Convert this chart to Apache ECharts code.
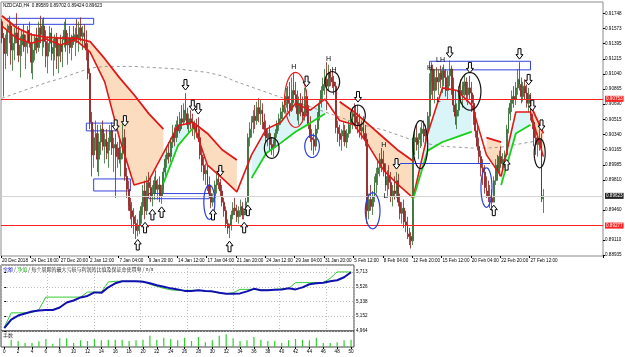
<!DOCTYPE html>
<html><head><meta charset="utf-8">
<script src="https://cdn.jsdelivr.net/npm/echarts@6/dist/echarts.min.js"></script>
<style>html,body{margin:0;padding:0;background:#fff}#c{width:625px;height:357px}</style>
</head><body><div id="c"></div>
<script>
const symbolName = 'NZDCAD,H4';
const firstLabel = '20 Dec 2018';
const firstOpen = 0.9165;
const highs = [0.9168,0.9152,0.9150,0.9162,0.9172,0.9165,0.9150,0.9158,0.9175,0.9160,
0.9148,0.9155,0.9162,0.9150,0.9160,0.9165,0.9152,0.9140,0.9150,0.9158,
0.9165,0.9172,0.9168,0.9170,0.9155,0.9148,0.9160,0.9158,0.9145,0.9150,
0.9152,0.9140,0.9150,0.9148,0.9165,0.9168,0.9152,0.9160,0.9150,0.9160,
0.9158,0.9168,0.9165,0.9170,0.9160,0.9162,0.9155,0.9140,0.9110,0.9060,
0.9040,0.9050,0.9045,0.9035,0.9045,0.9050,0.9035,0.9040,0.9030,0.9045,
0.9048,0.9030,0.9035,0.9025,0.9030,0.9020,0.9048,0.9040,0.8995,0.8980,
0.8960,0.8955,0.8948,0.8940,0.8935,0.8945,0.8955,0.8975,0.8980,0.8985,
0.8990,0.8985,0.8975,0.8985,0.8992,0.8982,0.8985,0.8975,0.8995,0.9010,
0.9020,0.9025,0.9030,0.9045,0.9042,0.9050,0.9055,0.9060,0.9068,0.9070,
0.9082,0.9065,0.9058,0.9062,0.9058,0.9050,0.9052,0.9054,0.9040,0.9020,
0.9008,0.9000,0.8998,0.8985,0.8975,0.8965,0.8980,0.8988,0.8995,0.8982,
0.8975,0.8960,0.8950,0.8935,0.8930,0.8945,0.8955,0.8960,0.8952,0.8950,
0.8958,0.8955,0.8948,0.8960,0.9035,0.9048,0.9055,0.9062,0.9068,0.9072,
0.9076,0.9074,0.9070,0.9058,0.9050,0.9040,0.9045,0.9030,0.9028,0.9040,
0.9050,0.9058,0.9065,0.9072,0.9080,0.9088,0.9090,0.9095,0.9100,0.9106,
0.9095,0.9085,0.9078,0.9082,0.9078,0.9088,0.9086,0.9068,0.9055,0.9040,
0.9035,0.9045,0.9060,0.9075,0.9090,0.9100,0.9110,0.9118,0.9115,0.9110,
0.9108,0.9102,0.9095,0.9050,0.9045,0.9040,0.9048,0.9045,0.9040,0.9050,
0.9060,0.9065,0.9070,0.9068,0.9068,0.9058,0.9050,0.9055,0.9045,0.9035,
0.8965,0.8975,0.8968,0.8985,0.8995,0.9005,0.9012,0.9018,0.9015,0.9000,
0.8992,0.8998,0.8990,0.8975,0.8985,0.8990,0.8988,0.8965,0.8955,0.8958,
0.8945,0.8938,0.8925,0.8920,0.9030,0.9040,0.9045,0.9035,0.9042,0.9048,
0.9050,0.9045,0.9060,0.9105,0.9118,0.9115,0.9110,0.9112,0.9110,0.9114,
0.9112,0.9115,0.9110,0.9108,0.9120,0.9114,0.9100,0.9085,0.9070,0.9090,
0.9098,0.9095,0.9104,0.9100,0.9095,0.9102,0.9095,0.9080,0.9060,0.9045,
0.9030,0.9015,0.9005,0.8998,0.8985,0.8980,0.8975,0.8970,0.8985,0.9005,
0.9010,0.9015,0.9020,0.9012,0.9015,0.9045,0.9065,0.9075,0.9085,0.9090,
0.9095,0.9110,0.9118,0.9100,0.9095,0.9098,0.9092,0.9088,0.9082,0.9058,
0.9050,0.9040,0.9035,0.9040,0.9035,0.89702];
const lows = [0.9140,0.9078,0.9110,0.9125,0.9140,0.9115,0.9108,0.9120,0.9140,0.9118,
0.9100,0.9125,0.9130,0.9110,0.9128,0.9135,0.9105,0.9098,0.9120,0.9128,
0.9130,0.9140,0.9125,0.9135,0.9112,0.9105,0.9130,0.9120,0.9102,0.9120,
0.9110,0.9105,0.9118,0.9112,0.9135,0.9130,0.9115,0.9128,0.9120,0.9138,
0.9125,0.9140,0.9130,0.9142,0.9132,0.9135,0.9120,0.9098,0.9040,0.8985,
0.8995,0.9015,0.8990,0.8985,0.9010,0.9015,0.9000,0.9005,0.8995,0.9015,
0.9010,0.8990,0.8960,0.8995,0.9000,0.8985,0.9005,0.8980,0.8960,0.8945,
0.8935,0.8925,0.8918,0.8912,0.8915,0.8918,0.8930,0.8940,0.8935,0.8940,
0.8960,0.8955,0.8950,0.8958,0.8965,0.8958,0.8955,0.8953,0.8965,0.8985,
0.8995,0.9000,0.9002,0.9018,0.9020,0.9025,0.9030,0.9035,0.9040,0.9045,
0.9050,0.9040,0.9035,0.9040,0.9032,0.9028,0.9030,0.9025,0.9005,0.8990,
0.8980,0.8975,0.8968,0.8960,0.8948,0.8950,0.8955,0.8965,0.8970,0.8962,
0.8950,0.8938,0.8925,0.8918,0.8913,0.8922,0.8935,0.8940,0.8932,0.8930,
0.8938,0.8935,0.8935,0.8940,0.8955,0.9020,0.9030,0.9035,0.9040,0.9045,
0.9048,0.9045,0.9040,0.9032,0.9025,0.9020,0.9015,0.9010,0.9008,0.9018,
0.9030,0.9038,0.9045,0.9050,0.9058,0.9065,0.9060,0.9055,0.9060,0.9070,
0.9065,0.9050,0.9045,0.9055,0.9048,0.9050,0.9055,0.9040,0.9025,0.9015,
0.9010,0.9015,0.9035,0.9050,0.9065,0.9075,0.9080,0.9062,0.9085,0.9090,
0.9088,0.9080,0.9035,0.9025,0.9020,0.9015,0.9025,0.9020,0.9018,0.9030,
0.9035,0.9040,0.9045,0.9040,0.9035,0.9030,0.9028,0.9030,0.9020,0.8930,
0.8935,0.8945,0.8940,0.8955,0.8965,0.8975,0.8985,0.8990,0.8985,0.8968,
0.8960,0.8970,0.8955,0.8950,0.8958,0.8960,0.8950,0.8935,0.8930,0.8925,
0.8920,0.8912,0.8905,0.8901,0.8905,0.9010,0.9015,0.9005,0.9018,0.9020,
0.9025,0.9020,0.9030,0.9040,0.9080,0.9075,0.9070,0.9085,0.9080,0.9088,
0.9082,0.9090,0.9078,0.9075,0.9090,0.9080,0.9060,0.9045,0.9040,0.9055,
0.9070,0.9065,0.9078,0.9072,0.9068,0.9075,0.9060,0.9045,0.9030,0.9015,
0.9000,0.8985,0.8975,0.8965,0.8960,0.8955,0.8948,0.8945,0.8955,0.8975,
0.8980,0.8985,0.8995,0.8990,0.8995,0.9008,0.9035,0.9050,0.9060,0.9065,
0.9068,0.9080,0.9085,0.9070,0.9072,0.9075,0.9065,0.9060,0.9050,0.9040,
0.9020,0.9010,0.9008,0.9015,0.8955,0.89424];
const closes = [0.9146,0.9128,0.9145,0.9155,0.9160,0.9132,0.9140,0.9152,0.9145,0.9126,
0.9138,0.9150,0.9136,0.9142,0.9155,0.9140,0.9118,0.9132,0.9146,0.9135,
0.9158,0.9150,0.9160,0.9142,0.9125,0.9140,0.9152,0.9128,0.9135,0.9146,
0.9125,0.9138,0.9130,0.9144,0.9155,0.9138,0.9146,0.9135,0.9148,0.9142,
0.9150,0.9145,0.9158,0.9148,0.9152,0.9140,0.9132,0.9105,0.9048,0.9010,
0.9030,0.9035,0.9005,0.9025,0.9040,0.9020,0.9028,0.9012,0.9025,0.9038,
0.9018,0.9022,0.9008,0.9018,0.9005,0.9012,0.9030,0.8985,0.8970,0.8952,
0.8945,0.8938,0.8930,0.8922,0.8928,0.8940,0.8950,0.8968,0.8945,0.8978,
0.8972,0.8962,0.8965,0.8980,0.8970,0.8975,0.8962,0.8970,0.8990,0.9005,
0.9012,0.9008,0.9025,0.9035,0.9030,0.9045,0.9038,0.9052,0.9048,0.9062,
0.9058,0.9045,0.9052,0.9048,0.9040,0.9044,0.9035,0.9030,0.9010,0.8998,
0.8988,0.8992,0.8975,0.8965,0.8955,0.8960,0.8975,0.8982,0.8978,0.8968,
0.8955,0.8945,0.8930,0.8925,0.8928,0.8940,0.8948,0.8945,0.8938,0.8945,
0.8950,0.8940,0.8945,0.8955,0.9030,0.9040,0.9048,0.9055,0.9050,0.9065,
0.9058,0.9062,0.9048,0.9040,0.9030,0.9035,0.9022,0.9018,0.9025,0.9035,
0.9045,0.9052,0.9060,0.9068,0.9075,0.9078,0.9070,0.9062,0.9085,0.9080,
0.9072,0.9058,0.9070,0.9060,0.9055,0.9078,0.9060,0.9045,0.9030,0.9028,
0.9020,0.9040,0.9055,0.9070,0.9085,0.9092,0.9098,0.9090,0.9105,0.9100,
0.9095,0.9090,0.9042,0.9035,0.9028,0.9032,0.9038,0.9025,0.9035,0.9045,
0.9050,0.9058,0.9055,0.9048,0.9045,0.9038,0.9042,0.9035,0.9028,0.8945,
0.8958,0.8950,0.8962,0.8978,0.8988,0.8995,0.9005,0.9000,0.8992,0.8975,
0.8985,0.8978,0.8962,0.8968,0.8965,0.8980,0.8955,0.8942,0.8948,0.8932,
0.8928,0.8918,0.8915,0.8910,0.9025,0.9030,0.9022,0.9028,0.9035,0.9040,
0.9032,0.9038,0.9055,0.9095,0.9110,0.9085,0.9100,0.9095,0.9105,0.9098,
0.9108,0.9100,0.9085,0.9102,0.9110,0.9088,0.9068,0.9055,0.9062,0.9085,
0.9080,0.9090,0.9095,0.9080,0.9088,0.9082,0.9070,0.9052,0.9038,0.9020,
0.9008,0.8995,0.8990,0.8972,0.8968,0.8962,0.8960,0.8955,0.8980,0.8998,
0.8990,0.9008,0.9000,0.9005,0.9010,0.9040,0.9058,0.9070,0.9078,0.9075,
0.9088,0.9098,0.9092,0.9078,0.9090,0.9082,0.9070,0.9080,0.9055,0.9048,
0.9030,0.9022,0.9028,0.9020,0.89589,0.89623];

// indicator lines read at sampled bars
const sampleIdx = [0,8,16,24,32,40,48,56,64,72,80,88,96,104,112,120,128,136,144,152,160,168,176,184,192,200,208,216,224,232,240,248,256,264,272,280,288,295];
const fastMA = [0.9160,0.9146,0.9140,0.9145,0.9138,0.9144,0.9130,0.9095,0.9030,0.8975,0.8980,0.9012,0.9044,0.9048,0.8998,0.8983,0.8967,0.9010,0.9040,0.9048,0.9070,0.9062,0.9075,0.9050,0.9045,0.9020,0.8992,0.8975,0.8960,0.9035,0.9088,0.9085,0.9068,0.9010,0.8985,0.9060,0.9060,0.9008];
const trailBear = [0.9172,0.9158,0.9150,0.9147,0.9146,0.9146,0.9142,0.9122,0.9100,0.9080,0.9058,0.9040,null,0.9048,0.9035,0.9016,0.9004,null,null,null,null,null,null,0.9072,0.9060,0.9045,0.9030,0.9015,0.9003,null,null,null,null,0.9030,0.9025,null,0.9068,0.9035];
const trailBull = [null,null,null,null,null,null,null,null,null,null,null,0.8977,0.9021,0.9041,null,null,null,0.8983,0.9012,0.9024,0.9037,0.9047,0.9058,null,null,null,null,null,0.8958,0.9015,0.9025,0.9031,0.9037,null,0.8975,0.9035,0.9045,null];
const longMA = [0.9076,0.9082,0.9088,0.9094,0.9099,0.9105,0.9111,0.9113,0.9113,0.9113,0.9112,0.9111,0.9110,0.9108,0.9106,0.9102,0.9095,0.9089,0.9083,0.9077,0.9071,0.9066,0.9060,0.9054,0.9048,0.9043,0.9039,0.9033,0.9027,0.9023,0.9020,0.9019,0.9018,0.9018,0.9019,0.9022,0.9025,0.9027];

const priceTicks = [0.91748,0.91573,0.91395,0.91215,0.91040,0.90865,0.90690,0.90515,0.90340,0.90165,0.89985,0.89810,0.89460,0.89110,0.88935];
const levelLines = [0.90753, 0.89277];

// annotations (data units)
const boxes = [[3,0.9162,50,0.9169],[46,0.9038,74,0.9047],[50,0.8968,70,0.8982],[80,0.8959,113,0.8965],[233,0.9109,288,0.9119]];
const blueLevel = [[217,266,0.9000]];
const ellipses = [[113,0.8955,3,0.0020,'b'],[160,0.9074,5.5,0.0032,'r'],[180,0.9095,4,0.0012,'k'],[147,0.9018,4,0.0012,'k'],[169,0.9020,4,0.0013,'b'],[194,0.9056,4,0.0012,'k'],[202,0.8945,3.5,0.0021,'b'],[228,0.9022,4,0.0028,'k'],[255,0.9084,5.5,0.0022,'k'],[264,0.8972,2.8,0.0023,'b'],[293,0.9012,3.3,0.0017,'k']];
const arrowsDown = [62,67,100,104,107,119,166,194,215,244,255,282,287,289,294];
const arrowsUp = [74,78,82,87,115,124,132,134,268,275];
const hlLabels = [[159,'H','up'],[178,'H','up'],[181,'H','up'],[208,'H','up'],[209,'L','down'],[233,'H','up'],[239,'LH','up'],[238,'L','down']];

// tester sub-window
const trades = [0,1,2,3,4,5,6,7,8,9,10,11,12,13,14,15,16,17,18,19,20,21,22,23,24,25,26,27,28,29,30,31,32,33,34,35,36,37,38,39,40,41,42,43,44,45,46,47,48,49,50];
const balance = [5000,5109,5160,5186,5211,5224,5231,5231,5263,5327,5352,5391,5410,5455,5449,5519,5570,5596,5596,5596,5590,5570,5545,5526,5506,5493,5474,5474,5481,5474,5468,5449,5438,5438,5442,5468,5500,5481,5481,5487,5493,5506,5493,5519,5558,5570,5577,5596,5609,5647,5711];
const equity = [5010,5195,5195,5195,5199,5237,5395,5395,5395,5395,5395,5395,5459,5459,5459,5587,5596,5596,5596,5596,5596,5558,5532,5506,5487,5481,5481,5481,5481,5474,5461,5449,5438,5449,5493,5493,5493,5487,5487,5493,5500,5506,5579,5579,5579,5579,5579,5634,5715,5715,5715];
const lots = [7.3,6,4,4,5.7,8,3.3,8.7,8.7,4,6.7,6,8,6.7,7.3,7.3,7.3,6,6.7,7.3,11.3,7.3,9.3,8,6.7,9.3,6,10,4.7,6.7,11.3,12.7,8.7,6,6.7,10,7.3,6,6,4,6.7,8,7.3,6.7,9.3,4,4,4.7,6.7,7.3];
const balTicks = [4964,5152,5338,5526,5713];
const tradeTicks = [0,2,4,6,8,10,12,14,16,18,20,22,24,26,28,30,32,34,36,38,40,42,44,46,48,50];
const headerText = ['余额',' / ','净值',' / 每个周期的最大亏损与利润的比值及保证金使用率 / n/a'];
const lotsLabel = '手数';

// ---------- build ----------
const FONT = "'Liberation Sans',Arial,sans-serif";
const FS = 4.6;
const MONTHS = ['Jan','Feb','Mar','Apr','May','Jun','Jul','Aug','Sep','Oct','Nov','Dec'];
const SLOTS = 328;
function barTimes(count) {
  const out = []; let t = Date.UTC(2018, 11, 20, 0, 0);
  while (out.length < count) {
    const d = new Date(t); const wd = d.getUTCDay(), mo = d.getUTCMonth(), da = d.getUTCDate(), hr = d.getUTCHours();
    const closed = wd === 0 || wd === 6 || (mo === 0 && da === 1) || (mo === 11 && da === 25 && hr < 12);
    if (!closed) out.push(da + ' ' + MONTHS[mo] + ' ' + String(hr).padStart(2, '0') + ':00');
    t += 4 * 3600 * 1000;
  }
  return out;
}
const categories = barTimes(SLOTS);
const lastIdx = closes.length - 1;
const lastLabelIdx = Math.floor(lastIdx / 16) * 16;
const labelInterval = (idx) => idx % 16 === 0 && idx <= lastLabelIdx;
const opens = closes.map((c, i) => i === 0 ? firstOpen : closes[i - 1]);
const candles = closes.map((c, i) => [opens[i], c, lows[i], highs[i]]);

const pairs = (arr) => sampleIdx.map((x, k) => [x, arr[k] == null ? '-' : arr[k]]);
function segments(upper, lower) {
  const segs = []; let cur = [];
  sampleIdx.forEach((x, k) => {
    if (upper[k] != null && lower[k] != null) cur.push([x, upper[k], lower[k]]);
    else { if (cur.length > 1) segs.push(cur); cur = []; }
  });
  if (cur.length > 1) segs.push(cur);
  return segs;
}
const bearSegs = segments(trailBear, fastMA);
const bullSegs = segments(fastMA, trailBull);
function fillSeries(segs, color) {
  return {
    type: 'custom', xAxisIndex: 0, yAxisIndex: 0, z: 1, silent: true, clip: true,
    data: segs.map(s => [s[0][0], s[0][1]]), encode: { x: 0, y: 1 },
    renderItem: (params, api) => {
      const s = segs[params.dataIndex];
      const top = s.map(p => api.coord([p[0], p[1]]));
      const bot = s.map(p => api.coord([p[0], p[2]])).reverse();
      return { type: 'polygon', shape: { points: top.concat(bot) }, style: { fill: color, stroke: null } };
    }
  };
}
const ecol = { b: '#2a3fd6', r: '#e82020', k: '#111' };
const arrowData = arrowsDown.map(i => [i, highs[i], -1]).concat(arrowsUp.map(i => [i, lows[i], 1]));
const labelData = hlLabels.map(l => [l[0], l[2] === 'up' ? highs[l[0]] : lows[l[0]], l[2] === 'up' ? -1 : 1, l[1]]);

const chart = echarts.init(document.getElementById('c'), null, { renderer: 'canvas' });
const tagLabel = (bg, v) => ({ show: true, position: 'end', distance: 2, fontSize: FS, fontFamily: FONT, color: '#fff', backgroundColor: bg, padding: [1, 1, 0, 1], formatter: v.toFixed(5) });

chart.setOption({
  animation: false,
  backgroundColor: '#fff',
  textStyle: { fontFamily: FONT },
  grid: [
    { left: 1, top: 2, width: 602, height: 254, show: true, borderColor: '#8c8c8c', borderWidth: 1, outerBoundsMode: 'none', containLabel: false },
    { left: 1, top: 265, width: 353, height: 66, show: true, borderColor: '#444', borderWidth: 1, outerBoundsMode: 'none', containLabel: false },
    { left: 1, top: 331, width: 353, height: 16, show: true, borderColor: '#444', borderWidth: 1, outerBoundsMode: 'none', containLabel: false }
  ],
  xAxis: [
    { type: 'category', gridIndex: 0, data: categories, boundaryGap: true,
      axisLine: { show: false },
      axisTick: { show: true, interval: labelInterval, length: 2, lineStyle: { color: '#000' } },
      axisLabel: { interval: labelInterval, formatter: (v, i) => i === 0 ? firstLabel : v, fontSize: FS, fontFamily: FONT, color: '#000', align: 'left', margin: 2, hideOverlap: false },
      splitLine: { show: false } },
    { type: 'value', gridIndex: 1, min: -0.47, max: 50.43, show: false },
    { type: 'value', gridIndex: 1, min: 0, max: 7.6, interval: 1, axisLine: { show: false }, axisTick: { show: false }, axisLabel: { show: false },
      splitLine: { show: true, lineStyle: { color: '#bdbdbd', type: [1, 2], width: 1 } } },
    { type: 'value', gridIndex: 2, min: -0.47, max: 50.43, axisLine: { show: false },
      axisTick: { show: true, customValues: tradeTicks, length: 2, lineStyle: { color: '#000' } },
      axisLabel: { customValues: tradeTicks, fontSize: FS, fontFamily: FONT, color: '#000', margin: 2 },
      splitLine: { show: false } }
  ],
  yAxis: [
    { type: 'value', gridIndex: 0, position: 'right', min: 0.88923, max: 0.91880,
      axisLine: { show: false },
      axisTick: { show: true, customValues: priceTicks, length: 2, lineStyle: { color: '#000' } },
      axisLabel: { customValues: priceTicks, formatter: v => v.toFixed(5), fontSize: FS, fontFamily: FONT, color: '#000', margin: 2 },
      splitLine: { show: false } },
    { type: 'value', gridIndex: 1, position: 'right', min: 4964, max: 5803,
      axisLine: { show: false },
      axisTick: { show: true, customValues: balTicks, length: 2, lineStyle: { color: '#000' } },
      axisLabel: { customValues: balTicks, fontSize: FS, fontFamily: FONT, color: '#000', margin: 2 },
      splitLine: { show: false } },
    { type: 'value', gridIndex: 1, min: 0, max: 4.5, interval: 1, axisLine: { show: false }, axisTick: { show: false }, axisLabel: { show: false },
      splitLine: { show: true, lineStyle: { color: '#bdbdbd', type: [1, 2], width: 1 } } },
    { type: 'value', gridIndex: 2, min: 0, max: 16, show: false }
  ],
  graphic: [
    { type: 'text', left: 3, top: 3, z: 50, style: { text: symbolName + '  ' + [opens[lastIdx], highs[lastIdx], lows[lastIdx], closes[lastIdx]].map(v => v.toFixed(5)).join(' '), font: FS + 'px ' + FONT, fill: '#000' } },
    { type: 'text', left: 3, top: 267, z: 50, style: {
        text: '{b|' + headerText[0] + '}' + headerText[1] + '{g|' + headerText[2] + '}' + headerText[3],
        font: "5px 'Noto Sans CJK SC', sans-serif", fill: '#333',
        rich: { b: { fill: '#2424d0', fontSize: 5, fontFamily: 'Noto Sans CJK SC' }, g: { fill: '#22aa22', fontSize: 5, fontFamily: 'Noto Sans CJK SC' } } } },
    { type: 'text', left: 3, top: 333, z: 50, style: { text: lotsLabel, font: "5px 'Noto Sans CJK SC', sans-serif", fill: '#333' } }
  ],
  series: [
    fillSeries(bearSegs, '#fcdcbf'),
    fillSeries(bullSegs, '#d9f5f7'),
    { type: 'line', name: 'longMA', xAxisIndex: 0, yAxisIndex: 0, data: pairs(longMA), symbol: 'none', z: 2, silent: true,
      lineStyle: { color: '#9a9a9a', width: 1, type: [3, 3] },
      markArea: { silent: true, itemStyle: { color: 'rgba(0,0,0,0)', borderColor: '#3344dd', borderWidth: 1 },
        data: boxes.map(b => [{ xAxis: b[0], yAxis: b[1] }, { xAxis: b[2], yAxis: b[3] }]) },
      markLine: { symbol: 'none', silent: true, animation: false, precision: 5,
        data: [
          { yAxis: levelLines[0], lineStyle: { color: '#ff2020', width: 1, type: 'solid' }, label: tagLabel('#ff2020', levelLines[0]) },
          { yAxis: levelLines[1], lineStyle: { color: '#ff2020', width: 1, type: 'solid' }, label: tagLabel('#ff2020', levelLines[1]) },
          { yAxis: closes[lastIdx], lineStyle: { color: '#d4d4d4', width: 1, type: 'solid' }, label: tagLabel('#222', closes[lastIdx]) },
          [{ coord: [blueLevel[0][0], blueLevel[0][2]], lineStyle: { color: '#3344dd', width: 1, type: 'solid' }, label: { show: false } }, { coord: [blueLevel[0][1], blueLevel[0][2]] }]
        ] } },
    { type: 'candlestick', name: 'NZDCAD', xAxisIndex: 0, yAxisIndex: 0, data: candles, z: 3, barWidth: 1.4,
      itemStyle: { color: '#2f6a2f', color0: '#8a1c1c', borderColor: '#2f6a2f', borderColor0: '#8a1c1c', borderWidth: 0.8 } },
    { type: 'line', name: 'fastMA', xAxisIndex: 0, yAxisIndex: 0, data: pairs(fastMA), symbol: 'none', z: 4, silent: true,
      lineStyle: { color: '#e01818', width: 1.6 } },
    { type: 'line', name: 'trailBear', xAxisIndex: 0, yAxisIndex: 0, data: pairs(trailBear), symbol: 'none', z: 4, silent: true, connectNulls: false,
      lineStyle: { color: '#e01818', width: 1.8 } },
    { type: 'line', name: 'trailBull', xAxisIndex: 0, yAxisIndex: 0, data: pairs(trailBull), symbol: 'none', z: 4, silent: true, connectNulls: false,
      lineStyle: { color: '#18d018', width: 1.8 } },
    { type: 'custom', name: 'ellipses', xAxisIndex: 0, yAxisIndex: 0, z: 5, silent: true,
      data: ellipses.map(e => [e[0], e[1], e[2], e[3]]), encode: { x: 0, y: 1 },
      renderItem: (params, api) => {
        const e = ellipses[params.dataIndex];
        const c = api.coord([e[0], e[1]]);
        const rx = Math.abs(api.coord([e[0] + e[2], e[1]])[0] - c[0]);
        const ry = Math.abs(api.coord([e[0], e[1] + e[3]])[1] - c[1]);
        const pts = [];
        for (let k = 0; k < 36; k++) { const a = k / 36 * Math.PI * 2; pts.push([c[0] + rx * Math.cos(a), c[1] + ry * Math.sin(a)]); }
        return { type: 'polygon', shape: { points: pts }, style: { fill: null, stroke: ecol[e[4]], lineWidth: 1.2 } };
      } },
    { type: 'custom', name: 'arrows', xAxisIndex: 0, yAxisIndex: 0, z: 6, silent: true,
      data: arrowData, encode: { x: 0, y: 1 },
      renderItem: (params, api) => {
        const p = api.coord([api.value(0), api.value(1)]);
        const d = api.value(2);
        const x = p[0], tip = p[1] + d * 3;
        const hw = 3.5, hh = 4.5, sw = 1.5, sh = 6;
        const b = tip + d * hh, e = b + d * sh;
        const pts = [[x, tip], [x + hw, b], [x + sw, b], [x + sw, e], [x - sw, e], [x - sw, b], [x - hw, b]];
        return { type: 'polygon', shape: { points: pts }, style: { fill: '#fff', stroke: '#000', lineWidth: 1 } };
      } },
    { type: 'custom', name: 'hl', xAxisIndex: 0, yAxisIndex: 0, z: 6, silent: true,
      data: labelData, encode: { x: 0, y: 1 },
      renderItem: (params, api) => {
        const l = labelData[params.dataIndex];
        const p = api.coord([l[0], l[1]]);
        return { type: 'text', x: p[0], y: p[1] + l[2] * 2,
          style: { text: l[3], fill: '#000', font: '7px ' + FONT, textAlign: 'center', textVerticalAlign: l[2] < 0 ? 'bottom' : 'top' } };
      } },
    { type: 'line', name: '净值', xAxisIndex: 1, yAxisIndex: 1, data: trades.map((n, k) => [n, equity[k]]), symbol: 'none', z: 3,
      lineStyle: { color: '#33cc33', width: 1 } },
    { type: 'line', name: '余额', xAxisIndex: 1, yAxisIndex: 1, data: trades.map((n, k) => [n, balance[k]]), symbol: 'none', z: 4,
      lineStyle: { color: '#1010b0', width: 2 } },
    { type: 'bar', name: lotsLabel, xAxisIndex: 3, yAxisIndex: 3, data: lots.map((v, k) => [k + 1, v]), barWidth: 1.2,
      itemStyle: { color: '#2fcf2f' } }
  ]
});
</script>
</body></html>
